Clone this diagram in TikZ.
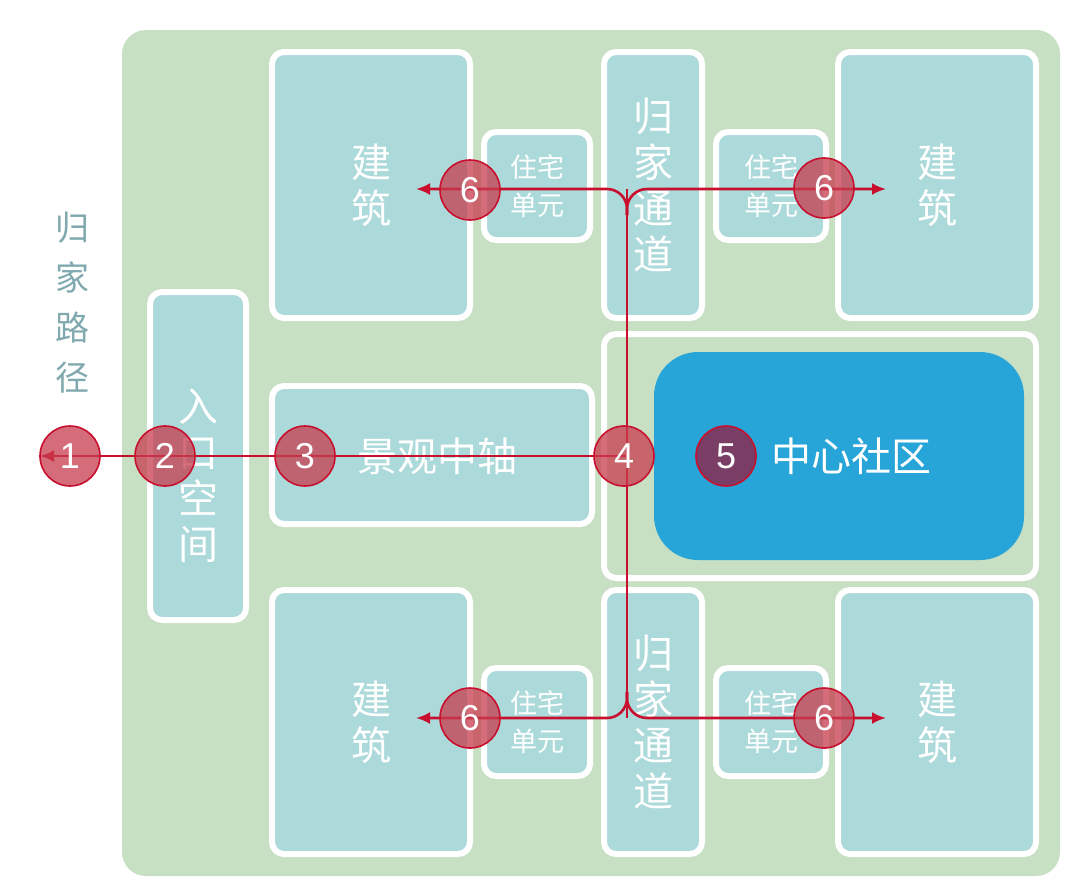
\documentclass[tikz,border=0pt]{standalone}
\usepackage{fontspec}
\setmainfont{Liberation Sans}
\newfontfamily\cjk{Noto Sans CJK SC}
\usetikzlibrary{arrows.meta}
\definecolor{bg}{HTML}{C7E0C3}
\definecolor{bld}{HTML}{ACD9DA}
\definecolor{ctr}{HTML}{27A5D8}
\definecolor{rl}{HTML}{C8102E}
\definecolor{cf}{HTML}{C73C4E}
\definecolor{pf}{HTML}{7A3E66}
\definecolor{lbl}{HTML}{7FA9AE}
\begin{document}
\begin{tikzpicture}[x=0.5pt,y=-0.5pt,
 blk/.style={draw=white,line width=3pt,fill=bld,rounded corners=6pt},
 wt/.style={text=white,font=\cjk\fontsize{20}{23}\selectfont,align=center},
 ut/.style={text=white,font=\cjk\fontsize{13.5}{19}\selectfont,align=center},
 num/.style={circle,minimum size=30pt,inner sep=0pt,fill=cf,fill opacity=0.75,text opacity=1,draw=rl,line width=0.8pt,text=white,font=\fontsize{18}{18}\selectfont},
 rline/.style={draw=rl,line width=1.3pt},
 arr/.style={rline,-{Latex[length=7pt,width=6pt]}}]
\useasboundingbox (0,0) rectangle (1080,884);
\fill[white] (0,0) rectangle (1080,884);
\fill[bg,rounded corners=12pt] (122,30) rectangle (1060,876);
% blocks
\draw[blk] (272,52) rectangle (470,318) node[midway,wt] (b1) {建\\筑};
\draw[blk] (484,132) rectangle (590,240) node[midway,ut] (u1) {住宅\\单元};
\draw[blk] (604,52) rectangle (702,318) node[midway,wt] (p1) {归\\家\\通\\道};
\draw[blk] (716,132) rectangle (826,240) node[midway,ut] (u2) {住宅\\单元};
\draw[blk] (838,52) rectangle (1036,318) node[midway,wt] (b2) {建\\筑};
\draw[blk] (150,292) rectangle (246,620) node[midway,wt,yshift=-10pt] (en) {入\\口\\空\\间};
\draw[blk] (272,386) rectangle (592,524);
\node[wt] (ax) at (437,456) {景观中轴};
\draw[draw=white,line width=3pt,fill=bg,rounded corners=6pt] (604,334) rectangle (1036,578);
\fill[ctr,rounded corners=22pt] (654,352) rectangle (1024,560);
\node[wt,anchor=west] (cc) at (764,456) {中心社区};
\draw[blk] (272,590) rectangle (470,854) node[midway,wt] (b3) {建\\筑};
\draw[blk] (484,668) rectangle (590,776) node[midway,ut] (u3) {住宅\\单元};
\draw[blk] (604,590) rectangle (702,854) node[midway,wt] (p2) {归\\家\\通\\道};
\draw[blk] (716,668) rectangle (826,776) node[midway,ut] (u4) {住宅\\单元};
\draw[blk] (838,590) rectangle (1036,854) node[midway,wt] (b4) {建\\筑};
\node[text=lbl,font=\cjk\fontsize{17}{25}\selectfont,align=center] (lab) at (72,303) {归\\家\\路\\径};
% red paths
\coordinate (j) at (627,456);
\coordinate (tl) at (416,189); \coordinate (tr) at (886,189);
\coordinate (bl) at (416,718); \coordinate (br) at (886,718);
\coordinate (le) at (40,456);
\draw[arr] (j) -- (le);
\draw[rline] (627,189) -- (627,718);
\draw[arr,rounded corners=10pt] (627,215) -- (627,189) -- (tl);
\draw[arr,rounded corners=10pt] (627,215) -- (627,189) -- (tr);
\draw[arr,rounded corners=10pt] (627,692) -- (627,718) -- (bl);
\draw[arr,rounded corners=10pt] (627,692) -- (627,718) -- (br);
% numbers
\node[num] (n1) at (70,456) {1};
\node[num] (n2) at (165,456) {2};
\node[num] (n3) at (305,456) {3};
\node[num] (n4) at (624,456) {4};
\node[num,fill=pf,fill opacity=1] (n5) at (726,456) {5};
\node[num] (n6a) at (470,190) {6};
\node[num] (n6b) at (824,188) {6};
\node[num] (n6c) at (470,718) {6};
\node[num] (n6d) at (824,718) {6};
\end{tikzpicture}
\end{document}
